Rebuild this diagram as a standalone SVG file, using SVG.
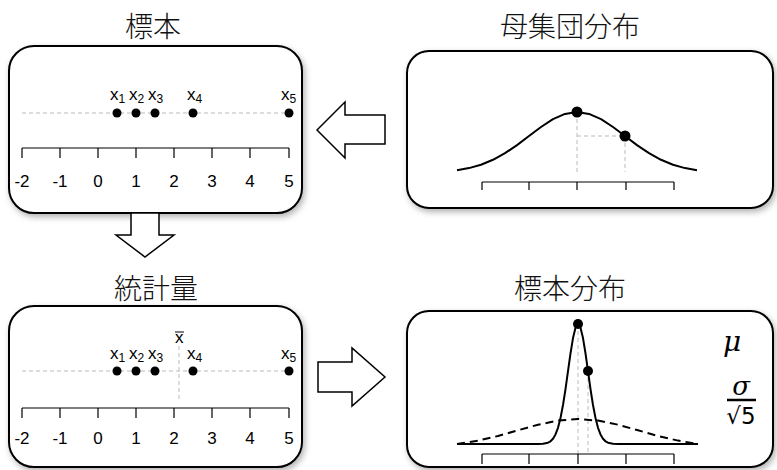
<svg xmlns="http://www.w3.org/2000/svg" width="777" height="470" viewBox="0 0 777 470">
<defs>
<filter id="sh" x="-10%" y="-10%" width="130%" height="130%">
<feDropShadow dx="2" dy="3" stdDeviation="3" flood-color="#000" flood-opacity="0.3"/>
</filter>
</defs>
<style>
.box{fill:#fff;stroke:#000;stroke-width:2;filter:url(#sh)}
.title{font-family:"Noto Sans CJK JP",sans-serif;font-weight:300;font-size:28px;text-anchor:middle;fill:#111}
.num{font-family:"Liberation Sans",Arial,sans-serif;font-size:17px;text-anchor:middle;fill:#000}
.xl{font-family:"Liberation Sans",Arial,sans-serif;font-size:17px;fill:#000}
.sub{font-size:12px}
.guide{stroke:#bbb;stroke-width:1;stroke-dasharray:4 3;fill:none}
.axis{stroke:#000;stroke-width:1.2;fill:none}
.curve{stroke:#000;stroke-width:2;fill:none;stroke-linejoin:round}
.dot{fill:#000}
.arrow{fill:#fff;stroke:#000;stroke-width:1.5}
.math{font-family:"DejaVu Serif","Liberation Serif",serif;font-style:italic;fill:#000}
</style>

<g id="sample">
<rect class="box" x="9" y="46" width="293" height="167" rx="25"/>
<text class="title" x="153" y="37">標本</text>
<line class="guide" x1="22" y1="113" x2="289" y2="113"/>
<circle class="dot" cx="117" cy="113" r="4.5"/>
<circle class="dot" cx="136" cy="113" r="4.5"/>
<circle class="dot" cx="155" cy="113" r="4.5"/>
<circle class="dot" cx="193" cy="113" r="4.5"/>
<circle class="dot" cx="289" cy="113" r="4.5"/>
<text class="xl" x="110" y="100">x<tspan class="sub" dy="3">1</tspan></text>
<text class="xl" x="129" y="100">x<tspan class="sub" dy="3">2</tspan></text>
<text class="xl" x="148" y="100">x<tspan class="sub" dy="3">3</tspan></text>
<text class="xl" x="187" y="100">x<tspan class="sub" dy="3">4</tspan></text>
<text class="xl" x="281" y="100">x<tspan class="sub" dy="3">5</tspan></text>
<path class="axis" d="M22,148 H289 M22,148 V158 M60,148 V158 M98,148 V158 M136,148 V158 M174,148 V158 M212,148 V158 M250,148 V158 M289,148 V158"/>
<text class="num" x="22" y="187">-2</text>
<text class="num" x="60" y="187">-1</text>
<text class="num" x="98" y="187">0</text>
<text class="num" x="136" y="187">1</text>
<text class="num" x="174" y="187">2</text>
<text class="num" x="212" y="187">3</text>
<text class="num" x="250" y="187">4</text>
<text class="num" x="289" y="187">5</text>
</g>

<g id="population">
<rect class="box" x="407" y="51" width="366" height="157" rx="22"/>
<text class="title" x="570" y="37">母集団分布</text>
<path class="guide" d="M577,112 V172 M577,136 H625 M625,136 V172"/>
<polyline class="curve" points="457,170.3 469,168.1 481,164.7 493,159.8 505,153.2 517,145.1 529,136 541,127 553,119.2 565,113.9 577,112 589,113.9 601,119.2 613,127 625,136 637,145.1 649,153.2 661,159.8 673,164.7 685,168.1 697,170.3"/>
<circle class="dot" cx="577" cy="112" r="5.5"/>
<circle class="dot" cx="625" cy="136" r="5.5"/>
<path class="axis" d="M482,182 H674 M482,182 V190 M529,182 V190 M577,182 V190 M626,182 V190 M674,182 V190"/>
</g>

<g id="statistic">
<rect class="box" x="9" y="306" width="293" height="161" rx="25"/>
<text class="title" x="156" y="299">統計量</text>
<line class="guide" x1="22" y1="371" x2="289" y2="371"/>
<line class="guide" x1="179" y1="346" x2="179" y2="400"/>
<circle class="dot" cx="117" cy="371" r="4.5"/>
<circle class="dot" cx="136" cy="371" r="4.5"/>
<circle class="dot" cx="155" cy="371" r="4.5"/>
<circle class="dot" cx="193" cy="371" r="4.5"/>
<circle class="dot" cx="289" cy="371" r="4.5"/>
<text class="xl" x="110" y="359">x<tspan class="sub" dy="3">1</tspan></text>
<text class="xl" x="129" y="359">x<tspan class="sub" dy="3">2</tspan></text>
<text class="xl" x="148" y="359">x<tspan class="sub" dy="3">3</tspan></text>
<text class="xl" x="187" y="359">x<tspan class="sub" dy="3">4</tspan></text>
<text class="xl" x="281" y="359">x<tspan class="sub" dy="3">5</tspan></text>
<text class="xl" x="175" y="343">x</text>
<line x1="175" y1="332" x2="184" y2="332" stroke="#000" stroke-width="1"/>
<path class="axis" d="M22,408 H289 M22,408 V418 M60,408 V418 M98,408 V418 M136,408 V418 M174,408 V418 M212,408 V418 M250,408 V418 M289,408 V418"/>
<text class="num" x="22" y="444">-2</text>
<text class="num" x="60" y="444">-1</text>
<text class="num" x="98" y="444">0</text>
<text class="num" x="136" y="444">1</text>
<text class="num" x="174" y="444">2</text>
<text class="num" x="212" y="444">3</text>
<text class="num" x="250" y="444">4</text>
<text class="num" x="289" y="444">5</text>
</g>

<g id="sampling-distribution">
<rect class="box" x="407" y="311" width="366" height="156" rx="22"/>
<text class="title" x="570" y="299">標本分布</text>
<path class="guide" d="M578,324 V454 M588,371 V454"/>
<polyline class="curve" stroke-dasharray="8 5" points="457,444 478,440.6 498,436 518,430.3 538,424.7 558,420.6 578,419 598,420.6 618,424.7 638,430.3 658,436 678,440.6 698,444"/>
<polyline class="curve" points="457,444 538,444 543,443.7 548,442.7 550.5,441.3 553,438.7 555.5,434.4 558,427.8 560.5,418 563,405 565.5,389.1 568,371.2 570.5,353.4 573,338.1 575.5,327.7 578,324 580.5,327.7 583,338.1 585.5,353.4 588,371.2 590.5,389.1 593,405 595.5,418 598,427.8 600.5,434.4 603,438.7 605.5,441.3 608,442.7 613,443.7 618,444 698,444"/>
<circle class="dot" cx="578" cy="324" r="5"/>
<circle class="dot" cx="588" cy="371" r="5"/>
<path class="axis" d="M482,454 H674 M482,454 V464 M529,454 V464 M578,454 V464 M626,454 V464 M674,454 V464"/>
<text class="math" x="723" y="351" font-size="28">μ</text>
<text class="math" x="741" y="395" font-size="26" text-anchor="middle">σ</text>
<line x1="727" y1="400" x2="756" y2="400" stroke="#000" stroke-width="2.5"/>
<text x="741" y="424" font-size="23" text-anchor="middle" font-family="DejaVu Sans,sans-serif">√5</text>
</g>

<g id="connectors">
<polygon class="arrow" points="317,130 345,102 345,115 385,115 385,144 345,144 345,158"/>
<polygon class="arrow" points="131,213 159,213 159,235 174,235 145,257 116,235 131,235"/>
<polygon class="arrow" points="318,362 352,362 352,348 385,377 352,406 352,392 318,392"/>
</g>
</svg>
